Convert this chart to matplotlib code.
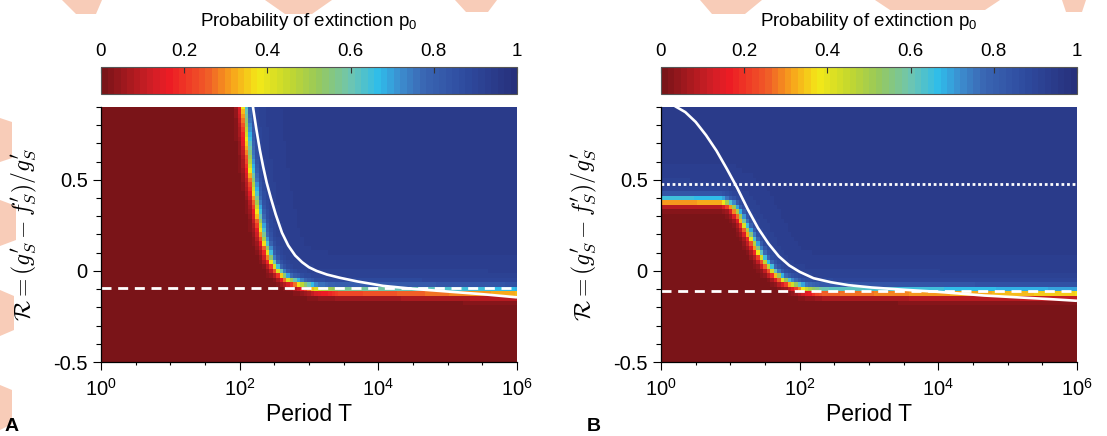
import numpy as np
import matplotlib
matplotlib.use('Agg')
import matplotlib.pyplot as plt
from matplotlib.colors import LinearSegmentedColormap
from matplotlib.ticker import FixedLocator, NullFormatter, FixedFormatter
from matplotlib.patches import Polygon

plt.rcParams['font.family'] = ['Liberation Sans', 'DejaVu Sans']
plt.rcParams['mathtext.fontset'] = 'custom'
plt.rcParams['mathtext.rm'] = 'Liberation Sans'
plt.rcParams['mathtext.it'] = 'Liberation Sans:italic'
plt.rcParams['axes.unicode_minus'] = False

# --- data read off the simulations ---------------------------------------
# p0 = 0.5 front (log10 T, R) where extinction sets in
front_A_logT = [1.94, 2.06, 2.10, 2.15, 2.21, 2.27, 2.34, 2.44, 2.53, 2.68, 2.87, 3.11, 3.45, 4.5, 6.1]
front_A_R = [1.2, 0.903, 0.757, 0.575, 0.43, 0.30, 0.174, 0.064, 0.009, -0.045, -0.073, -0.10, -0.109, -0.112, -0.118]
front_B_logT = [-0.1, 0.877, 1.02, 1.12, 1.21, 1.31, 1.41, 1.50, 1.60, 1.74, 1.89, 2.08, 2.32, 3.5, 6.1]
front_B_R = [0.385, 0.383, 0.356, 0.310, 0.246, 0.174, 0.10, 0.046, 0.0, -0.045, -0.073, -0.10, -0.112, -0.115, -0.12]

# analytical threshold curves (white solid lines)
theory_A_logT = [2.19, 2.24, 2.29, 2.34, 2.39, 2.45, 2.52, 2.61, 2.70, 2.80, 2.90, 3.00, 3.11, 3.26,
                 3.45, 3.70, 4.07, 4.55, 5.03, 5.51, 6.0]
theory_A_R = [0.905, 0.78, 0.666, 0.57, 0.484, 0.40, 0.31, 0.21, 0.14, 0.085, 0.048, 0.02, 0.0, -0.02,
              -0.038, -0.058, -0.082, -0.10, -0.114, -0.128, -0.145]
theory_B_logT = [0.20, 0.35, 0.50, 0.65, 0.80, 0.95, 1.10, 1.25, 1.40, 1.55, 1.70, 1.85, 2.00, 2.20,
                 2.45, 2.70, 3.04, 3.53, 4.00, 4.66, 5.62, 6.0]
theory_B_R = [0.905, 0.872, 0.818, 0.745, 0.66, 0.56, 0.455, 0.34, 0.235, 0.15, 0.08, 0.03, -0.005, -0.04,
              -0.062, -0.078, -0.091, -0.104, -0.115, -0.135, -0.155, -0.164]

# horizontal reference levels
dashed_A = -0.095
dashed_B = -0.11
dotted_B = 0.475

cbar_ticks = [0, 0.2, 0.4, 0.6, 0.8, 1]
cbar_labels = ['0', '0.2', '0.4', '0.6', '0.8', '1']

# simulation grid
logT_grid = np.arange(0, 6.0001, 0.05)
R_grid = np.arange(-0.5, 0.9001, 0.025)

# print style jet, reversed (0 = dark red, 1 = navy)
cmap = LinearSegmentedColormap.from_list('p0', [
    (0.0, '#7a1418'), (0.12, '#d41f26'), (0.16, '#ed1c24'), (0.25, '#f05a28'),
    (0.31, '#f7a21b'), (0.375, '#f4e817'), (0.45, '#c4d82e'), (0.52, '#98c95a'),
    (0.6, '#6ec5b0'), (0.67, '#2ebdeb'), (0.72, '#3c8fd0'), (0.78, '#3a66b3'),
    (0.88, '#2e4b9f'), (1.0, '#27307c')], N=64)

PX_DEC = 69.3   # pixels per decade
PX_R = 182.7    # pixels per unit of R


def p0_field(fx, fy):
    X, Y = np.meshgrid(logT_grid, R_grid)
    px = np.array(fx) * PX_DEC
    py = np.array(fy) * PX_R
    Xp, Yp = X * PX_DEC, Y * PX_R
    d = np.full(X.shape, np.inf)
    for i in range(len(px) - 1):
        vx, vy = px[i + 1] - px[i], py[i + 1] - py[i]
        t = ((Xp - px[i]) * vx + (Yp - py[i]) * vy) / (vx * vx + vy * vy)
        t = np.clip(t, 0, 1)
        d = np.minimum(d, np.hypot(Xp - px[i] - t * vx, Yp - py[i] - t * vy))
    above = Y > np.interp(X, fx, fy)
    d = np.where(above, d, -d)
    p = 0.5 + 0.5 * np.tanh(d / 5.5)
    halo = 0.95 - 0.08 * np.exp(-np.clip(d, 0, None) / 20)
    return p * halo


def edges(c):
    step = c[1] - c[0]
    return np.append(c - step / 2, c[-1] + step / 2)


fig = plt.figure(figsize=(11.07, 4.36), dpi=100)
W, H = 1107, 436

panels = [
    (101, 'A', 5, front_A_logT, front_A_R, theory_A_logT, theory_A_R, dashed_A, None),
    (661, 'B', 587, front_B_logT, front_B_R, theory_B_logT, theory_B_R, dashed_B, dotted_B),
]

for left, letter, letter_x, fx, fy, tx, ty, dash, dot in panels:
    ax = fig.add_axes([left / W, (H - 362) / H, 416 / W, 255 / H])
    cax = fig.add_axes([left / W, (H - 94) / H, 416 / W, 27 / H])

    p = p0_field(fx, fy)
    mesh = ax.pcolormesh(10 ** edges(logT_grid), edges(R_grid), p,
                         cmap=cmap, vmin=0, vmax=1, shading='flat')
    ax.plot(10 ** np.array(tx), ty, color='white', lw=1.9, solid_capstyle='butt')
    ax.axhline(dash, color='white', lw=2, dashes=(3.6, 2.4))
    if dot is not None:
        ax.axhline(dot, color='white', lw=2, dashes=(1, 1))

    ax.set_xscale('log')
    ax.set_xlim(1, 1e6)
    ax.set_ylim(-0.5, 0.9)
    ax.xaxis.set_major_locator(FixedLocator([1, 1e2, 1e4, 1e6]))
    ax.xaxis.set_minor_locator(FixedLocator([10 ** k for k in [0.5, 1, 1.5, 2.5, 3, 3.5, 4.5, 5, 5.5]]))
    ax.xaxis.set_minor_formatter(NullFormatter())
    ax.yaxis.set_major_locator(FixedLocator([-0.5, 0, 0.5]))
    ax.yaxis.set_major_formatter(FixedFormatter(['-0.5', '0', '0.5']))
    ax.yaxis.set_minor_locator(FixedLocator([-0.4, -0.3, -0.2, -0.1, 0.1, 0.2, 0.3, 0.4, 0.6, 0.7, 0.8, 0.9]))
    ax.tick_params(which='major', direction='out', length=5.5, width=0.8, labelsize=14.5, pad=4)
    ax.tick_params(axis='x', which='minor', direction='out', length=2.5, width=0.8)
    ax.tick_params(axis='y', which='minor', direction='out', length=3.5, width=0.8)
    ax.tick_params(axis='x', which='major', pad=6)
    for s in ['top', 'right']:
        ax.spines[s].set_visible(False)
    for s in ['left', 'bottom']:
        ax.spines[s].set_linewidth(0.9)

    ax.set_xlabel('Period T', fontsize=16.5, labelpad=2)
    ax.set_ylabel(r"$\mathcal{R} = (g_S^{\prime} - f_S^{\prime})/g_S^{\prime}$",
                  fontsize=17, math_fontfamily='cm')
    ax.yaxis.set_label_coords(-0.15, 0.5)

    cb = fig.colorbar(mesh, cax=cax, orientation='horizontal', ticks=cbar_ticks)
    cb.ax.set_xticklabels(cbar_labels)
    cax.xaxis.set_ticks_position('top')
    cax.tick_params(direction='in', length=4, width=0.8, labelsize=13.5, pad=5, color='#333333')
    cb.outline.set_linewidth(0.8)
    cb.outline.set_edgecolor('#555555')
    fig.text((left + 208) / W, (H - 22) / H, 'Probability of extinction p$_0$',
             ha='center', va='center', fontsize=13.5)

    fig.text(letter_x / W, 1 / H, letter, fontsize=14, fontweight='bold', ha='left', va='bottom')

# faint salmon marks along the page edges
salmon = '#f8ccb8'
marks = [
    [(62, 0), (102, 0), (96, 14), (76, 14)],
    [(265, 0), (332, 0), (312, 14), (285, 14)],
    [(455, 0), (497, 0), (488, 12), (466, 12)],
    [(700, 0), (762, 0), (745, 14), (712, 14)],
    [(875, 0), (1000, 0), (985, 10), (890, 10)],
    [(1062, 0), (1086, 0), (1082, 12), (1066, 12)],
    [(0, 118), (12, 122), (12, 158), (0, 162)],
    [(0, 200), (16, 206), (16, 240), (0, 246)],
    [(0, 290), (14, 296), (14, 330), (0, 336)],
    [(0, 385), (12, 390), (12, 424), (0, 430)],
]
for pts in marks:
    fig.patches.append(Polygon([(x / W, 1 - y / H) for x, y in pts], closed=True,
                               transform=fig.transFigure, facecolor=salmon,
                               edgecolor='none', zorder=-1))

plt.savefig('out.png', dpi=100)
